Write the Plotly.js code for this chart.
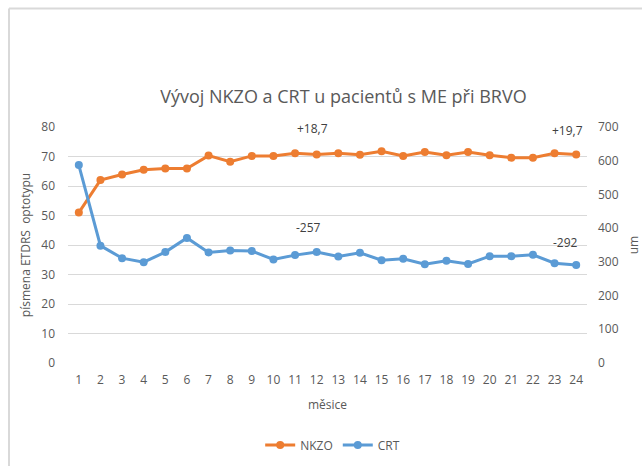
<!DOCTYPE html>
<html>
<head>
<meta charset="utf-8">
<script src="https://cdn.plot.ly/plotly-3.0.1.min.js"></script>
<style>
html,body{margin:0;padding:0;background:#fff;}
#chart{width:642px;height:466px;}
</style>
</head>
<body>
<div id="chart"></div>
<script>
const months = [1,2,3,4,5,6,7,8,9,10,11,12,13,14,15,16,17,18,19,20,21,22,23,24];
const nkzo = [51.0,62.0,63.9,65.5,65.9,65.9,70.3,68.2,70.2,70.2,71.1,70.7,71.1,70.6,71.8,70.2,71.5,70.4,71.5,70.4,69.6,69.6,71.1,70.7];
const crt = [587,348,311,299,329,371,328,334,332,307,320,329,316,327,305,309,293,303,294,317,317,321,296,291];
const leftTicks = [0,10,20,30,40,50,60,70,80];
const rightTicks = [0,100,200,300,400,500,600,700];
const labelNKZO = [{x:11.8, y:79.4, text:'+18,7'},{x:23.6, y:78.7, text:'+19,7'}];
const labelCRT = [{x:11.6, y:45.8, text:'-257'},{x:23.5, y:41.0, text:'-292'}];

const FONT = 'Open Sans, sans-serif';
const GRAY = '#595959';

const traces = [
  {x: months, y: nkzo, name: 'NKZO', type: 'scatter', mode: 'lines+markers',
   line: {color: '#ED7D31', width: 3}, marker: {color: '#ED7D31', size: 8}, yaxis: 'y'},
  {x: months, y: crt, name: 'CRT', type: 'scatter', mode: 'lines+markers',
   line: {color: '#5B9BD5', width: 3}, marker: {color: '#5B9BD5', size: 8}, yaxis: 'y2'}
];

const annotations = labelNKZO.concat(labelCRT).map(a => ({
  x: a.x, y: a.y, xref: 'x', yref: 'y', text: a.text, showarrow: false,
  font: {family: FONT, size: 12, color: '#404040'}
}));

const layout = {
  width: 642, height: 466,
  margin: {l: 68, r: 55, t: 127, b: 103},
  paper_bgcolor: '#ffffff', plot_bgcolor: '#ffffff',
  font: {family: FONT, color: GRAY, size: 12},
  title: {text: 'Vývoj NKZO a CRT u pacientů s ME při BRVO', x: 0.535, xanchor: 'center',
          y: 0.792, yref: 'container', yanchor: 'middle',
          font: {family: FONT, size: 18, color: GRAY}},
  xaxis: {range: [0.5, 24.5], tickvals: months, ticktext: months.map(String),
          showgrid: false, zeroline: false, showline: false, ticks: '',
          ticklabelstandoff: 8, tickfont: {size: 12, color: GRAY},
          title: {text: 'měsice', font: {size: 12, color: GRAY}, standoff: 13}},
  yaxis: {range: [0, 80], tickvals: leftTicks, showgrid: true, gridcolor: '#d9d9d9', gridwidth: 1,
          zeroline: false, showline: false, ticks: '', ticklabelstandoff: 12,
          tickfont: {size: 12, color: GRAY},
          title: {text: 'písmena ETDRS  optotypu', font: {size: 12, color: GRAY}, standoff: 8}},
  yaxis2: {range: [0, 700], tickvals: rightTicks, overlaying: 'y', side: 'right',
           showgrid: false, zeroline: false, showline: false, ticks: '', ticklabelstandoff: 10,
           tickfont: {size: 12, color: GRAY},
           title: {text: 'um', font: {size: 12, color: GRAY}, standoff: 13}},
  legend: {orientation: 'h', x: 0.51, xanchor: 'center', y: 0.045, yref: 'container', yanchor: 'middle',
           font: {size: 12, color: GRAY}, itemwidth: 30},
  annotations: annotations,
  shapes: [
    {type: 'line', xref: 'paper', yref: 'paper', x0: -0.1137, x1: 1.2, y0: 1.5025, y1: 1.5025,
     line: {color: '#d9d9d9', width: 2}},
    {type: 'line', xref: 'paper', yref: 'paper', x0: -0.1137, x1: -0.1137, y0: 1.5025, y1: -0.5,
     line: {color: '#d9d9d9', width: 2}}
  ],
  showlegend: true
};

Plotly.newPlot('chart', traces, layout, {displayModeBar: false, staticPlot: true});
</script>
</body>
</html>
